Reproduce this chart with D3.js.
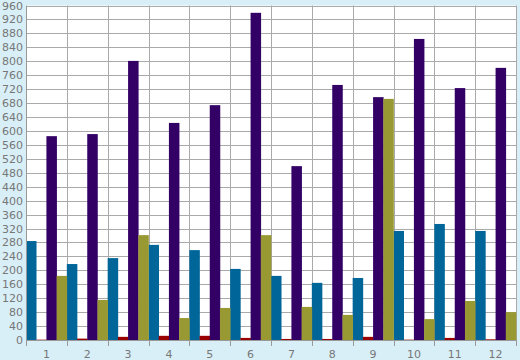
<!DOCTYPE html>
<html><head><meta charset="utf-8">
<script src="https://cdn.jsdelivr.net/npm/d3@7"></script>
<style>body{margin:0;background:#d9eff7;}svg{display:block;}</style>
</head><body>
<script>
const categories = ["1","2","3","4","5","6","7","8","9","10","11","12"];
const seriesNames = ["A","B","C","D"];
const blueVals   = [284,218,235,273,258,204,184,164,178,313,333,313];
const redVals    = [1,4,9,12,12,6,3,3,9,1,6,2];
const purpleVals = [585,591,801,623,674,939,499,732,697,864,723,781];
const oliveVals  = [184,115,301,63,92,301,95,72,692,60,112,80];
const yTicks = d3.range(0, 961, 40);
const colors = ["#006699","#990000","#330066","#999933"];
const seriesVals = [blueVals, redVals, purpleVals, oliveVals];

const W = 520, H = 360;
const m = {l:26, r:4, t:5.5, b:20};
const svg = d3.select("body").append("svg").attr("width", W).attr("height", H);
svg.append("rect").attr("width", W).attr("height", H).attr("fill", "#d9eff7");

const x = d3.scaleBand().domain(categories).range([m.l, W - m.r]).padding(0);
const xs = d3.scaleBand().domain(seriesNames).range([0, x.bandwidth()]).padding(0);
const y = d3.scaleLinear().domain([0, 960]).range([H - m.b, m.t]);

svg.append("rect").attr("x", m.l).attr("y", m.t).attr("width", W - m.r - m.l).attr("height", H - m.b - m.t).attr("fill", "#fff");

// grid
const g = svg.append("g");
g.selectAll("line.h").data(yTicks).join("line")
  .attr("x1", m.l).attr("x2", W - m.r)
  .attr("y1", d => Math.round(y(d)) + 0.5).attr("y2", d => Math.round(y(d)) + 0.5)
  .attr("stroke", "#aaaaaa").attr("stroke-width", 1);
const bounds = categories.map(c => x(c)).concat([W - m.r]);
g.selectAll("line.v").data(bounds).join("line")
  .attr("x1", d => Math.round(d) + 0.5).attr("x2", d => Math.round(d) + 0.5)
  .attr("y1", m.t).attr("y2", H - m.b)
  .attr("stroke", "#aaaaaa").attr("stroke-width", 1);

// bars
seriesVals.forEach((vals, si) => {
  svg.append("g").selectAll("rect").data(vals).join("rect")
    .attr("x", (d, i) => x(categories[i]) + xs(seriesNames[si]))
    .attr("width", xs.bandwidth() + 0.3)
    .attr("y", d => y(d))
    .attr("height", d => y(0) - y(d))
    .attr("fill", colors[si]);
});

// axes
const yAxis = d3.axisLeft(y).tickValues(yTicks).tickSize(0).tickPadding(3);
const ya = svg.append("g").attr("transform", `translate(${m.l},0)`).call(yAxis);
ya.select(".domain").attr("stroke", "#999");
ya.selectAll("text").attr("fill", "#777").style("font-family", "DejaVu Sans, sans-serif").style("font-size", "11px");

const xAxis = d3.axisBottom(x).tickSize(0).tickPadding(10);
const xa = svg.append("g").attr("transform", `translate(0,${H - m.b})`).call(xAxis);
xa.select(".domain").attr("stroke", "#999");
xa.selectAll("text").attr("fill", "#777").style("font-family", "DejaVu Sans, sans-serif").style("font-size", "11px");
xa.selectAll("line.sep").data(bounds).join("line").attr("class","sep")
  .attr("x1", d => Math.round(d) + 0.5).attr("x2", d => Math.round(d) + 0.5)
  .attr("y1", 0).attr("y2", 6).attr("stroke", "#999");
</script>
</body></html>
